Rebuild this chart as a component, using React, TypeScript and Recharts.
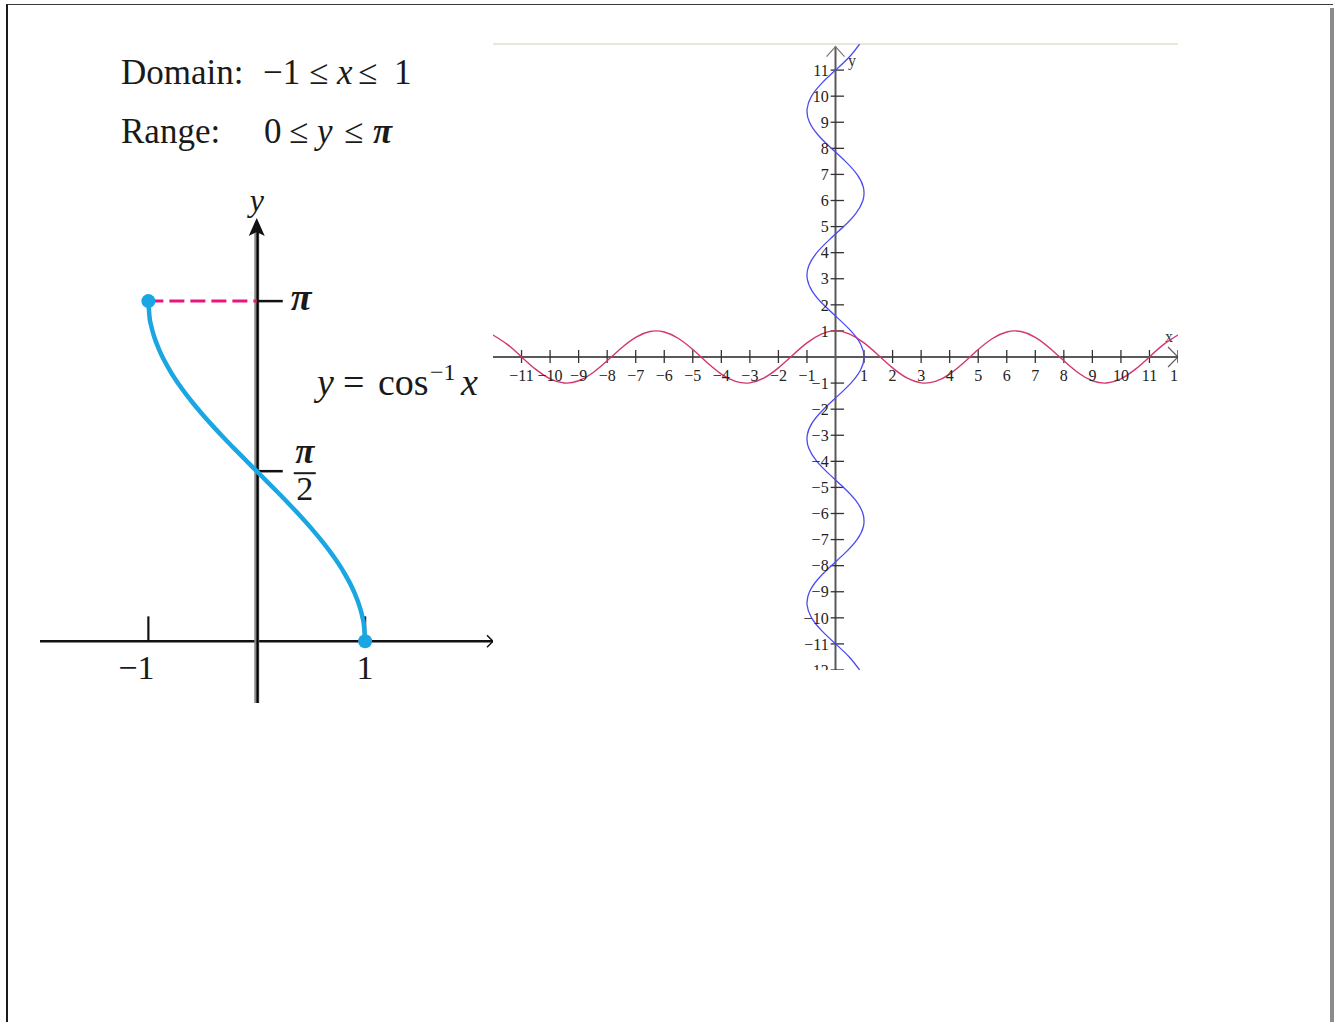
import { LineChart, Line, XAxis, YAxis, ReferenceLine, ReferenceDot } from "recharts";

const SERIF = '"Liberation Serif", "DejaVu Serif", serif';

// principal branch of arccos on [-1, 1]
const acosX = [-1, -0.99, -0.975, -0.95, -0.9, -0.8, -0.7, -0.6, -0.5, -0.4, -0.3, -0.2, -0.1, 0, 0.1, 0.2, 0.3, 0.4, 0.5, 0.6, 0.7, 0.8, 0.9, 0.95, 0.975, 0.99, 1];
const acosY = [3.1416, 3.0001, 2.9175, 2.824, 2.6906, 2.4981, 2.3462, 2.2143, 2.0944, 1.9823, 1.8755, 1.7722, 1.671, 1.5708, 1.4706, 1.3694, 1.2661, 1.1593, 1.0472, 0.9273, 0.7954, 0.6435, 0.451, 0.3176, 0.2241, 0.1415, 0];
const PI = 3.1416;
const HALF_PI = 1.5708;
const leftTicks = [-1, 1];

// cosine samples on [-12, 12]; used as y = cos x and, swapped, as x = cos y
const cosT = [-12, -11.5, -11, -10.5, -10, -9.5, -9, -8.5, -8, -7.5, -7, -6.5, -6, -5.5, -5, -4.5, -4, -3.5, -3, -2.5, -2, -1.5, -1, -0.5, 0, 0.5, 1, 1.5, 2, 2.5, 3, 3.5, 4, 4.5, 5, 5.5, 6, 6.5, 7, 7.5, 8, 8.5, 9, 9.5, 10, 10.5, 11, 11.5, 12];
const cosV = [0.844, 0.483, 0.004, -0.476, -0.839, -0.997, -0.911, -0.602, -0.146, 0.347, 0.754, 0.977, 0.96, 0.709, 0.284, -0.211, -0.654, -0.936, -0.99, -0.801, -0.416, 0.071, 0.54, 0.878, 1, 0.878, 0.54, 0.071, -0.416, -0.801, -0.99, -0.936, -0.654, -0.211, 0.284, 0.709, 0.96, 0.977, 0.754, 0.347, -0.146, -0.602, -0.911, -0.997, -0.839, -0.476, 0.004, 0.483, 0.844];

const xTicks = [-11, -10, -9, -8, -7, -6, -5, -4, -3, -2, -1, 1, 2, 3, 4, 5, 6, 7, 8, 9, 10, 11, 12];
const yTicks = [-12, -11, -10, -9, -8, -7, -6, -5, -4, -3, -2, -1, 1, 2, 3, 4, 5, 6, 7, 8, 9, 10, 11];

const acosData = acosX.map((x, i) => ({ x, y: acosY[i] }));
const cosData = cosT.map((t, i) => ({ x: t, y: cosV[i] }));
const invData = cosT.map((t, i) => ({ x: cosV[i], y: t }));

const fmt = (v: number) => String(v).replace("-", "\u2212");

// x axis with an open arrow head at the right end
const rightArrow = (color: string, width: number, head: number, headWidth: number) => (p: any) => (
  <g>
    <line x1={p.x1} y1={p.y1} x2={p.x2} y2={p.y2} stroke={color} strokeWidth={width} />
    <path
      d={`M${p.x2 - head},${p.y2 - head} L${p.x2},${p.y2} L${p.x2 - head},${p.y2 + head}`}
      fill="none"
      stroke={color}
      strokeWidth={headWidth}
    />
  </g>
);

// thick y axis with a solid arrow head on top
const solidUpArrow = (p: any) => (
  <g>
    <line x1={p.x1} y1={p.y1} x2={p.x2} y2={p.y2 + 10} stroke="#8a8a8a" strokeWidth={5} />
    <line x1={p.x1 + 0.8} y1={p.y1} x2={p.x2 + 0.8} y2={p.y2 + 10} stroke="#000" strokeWidth={2.2} />
    <path d={`M${p.x2},${p.y2} L${p.x2 + 8},${p.y2 + 18} L${p.x2},${p.y2 + 14} L${p.x2 - 8},${p.y2 + 18} Z`} fill="#111" />
  </g>
);

const openUpArrow = (p: any) => (
  <g>
    <line x1={p.x1} y1={p.y1} x2={p.x2} y2={p.y2} stroke="#5a5a5a" strokeWidth={2} />
    <path d={`M${p.x2 - 9},${p.y2 + 10} L${p.x2},${p.y2} L${p.x2 + 9},${p.y2 + 10}`} fill="none" stroke="#777" strokeWidth={1.2} />
  </g>
);

const HalfPiLabel = (props: any) => {
  const vb = props.viewBox;
  const cx = vb.x + vb.width + 22;
  const cy = vb.y + vb.height / 2;
  return (
    <g fontFamily={SERIF} fill="#1a1a1a">
      <text x={cx} y={cy - 8} textAnchor="middle" fontSize={35} fontStyle="italic" fontWeight="bold">π</text>
      <line x1={cx - 11} x2={cx + 11} y1={cy + 2} y2={cy + 2} stroke="#1a1a1a" strokeWidth={2} />
      <text x={cx} y={cy + 29} textAnchor="middle" fontSize={34}>2</text>
    </g>
  );
};

const PiLabel = (props: any) => {
  const vb = props.viewBox;
  return (
    <text x={vb.x + vb.width + 8} y={vb.y + 9} fontFamily={SERIF} fontSize={38} fontStyle="italic" fontWeight="bold" fill="#1a1a1a">π</text>
  );
};

const tickLabel = (text: string, shift: number) => (props: any) => {
  const vb = props.viewBox;
  return (
    <text x={vb.x + shift} y={vb.y + vb.height + 38} textAnchor="middle" fontFamily={SERIF} fontSize={34} fill="#1a1a1a">{text}</text>
  );
};

const YLabel = (props: any) => {
  const vb = props.viewBox;
  return (
    <text x={vb.x} y={vb.y - 7} textAnchor="middle" fontFamily={SERIF} fontSize={32} fontStyle="italic" fill="#1a1a1a">y</text>
  );
};

function ArccosChart() {
  return (
    <LineChart width={453} height={523} margin={{ top: 0, right: 0, bottom: 0, left: 0 }}>
      <XAxis type="number" dataKey="x" domain={[-2, 2.18]} allowDataOverflow hide />
      <YAxis type="number" domain={[-0.57, 4.26]} allowDataOverflow hide />

      <ReferenceLine segment={[{ x: -2, y: 0 }, { x: 2.18, y: 0 }]} shape={rightArrow("#111", 2.5, 6, 1.5)} />
      <ReferenceLine segment={[{ x: 0, y: -0.57 }, { x: 0, y: 3.91 }]} shape={solidUpArrow} label={{ content: YLabel }} />

      {leftTicks.map((t) => (
        <ReferenceLine
          key={t}
          segment={[{ x: t, y: 0 }, { x: t, y: 0.23 }]}
          stroke="#111"
          strokeWidth={2.2}
          label={{ content: tickLabel(fmt(t), t < 0 ? -12 : 0) }}
        />
      ))}
      <ReferenceLine segment={[{ x: 0, y: PI }, { x: 0.24, y: PI }]} stroke="#111" strokeWidth={2.5} label={{ content: PiLabel }} />
      <ReferenceLine segment={[{ x: 0, y: HALF_PI }, { x: 0.24, y: HALF_PI }]} stroke="#111" strokeWidth={2.5} label={{ content: HalfPiLabel }} />

      <ReferenceLine segment={[{ x: -1, y: PI }, { x: 0, y: PI }]} stroke="#E8157F" strokeWidth={3} strokeDasharray="15 6" />

      <Line
        data={acosData}
        dataKey="y"
        type="monotone"
        stroke="#1AA6E2"
        strokeWidth={4.5}
        dot={false}
        activeDot={false}
        isAnimationActive={false}
      />
      <ReferenceDot x={-1} y={PI} r={7} fill="#1AA6E2" stroke="none" />
      <ReferenceDot x={1} y={0} r={7} fill="#1AA6E2" stroke="none" />
    </LineChart>
  );
}

const smallTick = { fontSize: 16, fontFamily: SERIF, fill: "#222" };

function CosineChart() {
  return (
    <LineChart width={685} height={628} margin={{ top: 2, right: 0, bottom: 0, left: 0 }}>
      <XAxis type="number" dataKey="x" domain={[-12, 12]} allowDataOverflow hide />
      <YAxis type="number" domain={[-12, 12]} allowDataOverflow hide />

      <ReferenceLine y={12} stroke="#E9E7DA" strokeWidth={2} />
      <ReferenceLine segment={[{ x: -12, y: 0 }, { x: 12, y: 0 }]} shape={rightArrow("#5a5a5a", 2, 10, 1.2)} />
      <ReferenceLine segment={[{ x: 0, y: -12 }, { x: 0, y: 11.9 }]} shape={openUpArrow} />

      {xTicks.map((t) => (
        <ReferenceLine
          key={`x${t}`}
          segment={[{ x: t, y: -0.23 }, { x: t, y: 0.27 }]}
          stroke="#333"
          strokeWidth={1.3}
          label={{ value: fmt(t), position: "bottom", offset: 7, ...smallTick }}
        />
      ))}
      {yTicks.map((t) => (
        <ReferenceLine
          key={`y${t}`}
          segment={[{ x: -0.17, y: t }, { x: 0.3, y: t }]}
          stroke="#333"
          strokeWidth={1.3}
          label={{ value: fmt(t), position: "left", offset: 2, ...smallTick }}
        />
      ))}

      <Line
        data={cosData}
        dataKey="y"
        type="natural"
        stroke="#D4366E"
        strokeWidth={1.4}
        dot={false}
        activeDot={false}
        isAnimationActive={false}
      />
      <Line
        data={invData}
        dataKey="y"
        type="natural"
        stroke="#4A4AF5"
        strokeWidth={1.3}
        dot={false}
        activeDot={false}
        isAnimationActive={false}
      />
    </LineChart>
  );
}

export default function App() {
  return (
    <div style={{ position: "absolute", left: 0, top: 0, width: 1335, height: 1022, background: "#fff", overflow: "hidden" }}>
      {/* slide frame */}
      <div style={{ position: "absolute", left: 6, top: 4, width: 1325, height: 1040, borderLeft: "2px solid #1a1a1a", borderTop: "1.5px solid #3a3a3a" }} />
      <div style={{ position: "absolute", left: 1330, top: 8, width: 4, height: 1014, background: "#8c8c8c" }} />

      <svg width={1335} height={1022} style={{ position: "absolute", left: 0, top: 0 }} fontFamily={SERIF} fill="#1a1a1a">
        <g fontSize={35}>
          <text x={121} y={84}>Domain:</text>
          <text x={263} y={84}>{"\u22121"}</text>
          <text x={309} y={84}>≤</text>
          <text x={337} y={84} fontStyle="italic">x</text>
          <text x={358} y={84}>≤</text>
          <text x={394} y={84}>1</text>

          <text x={121} y={143}>Range:</text>
          <text x={264} y={143}>0</text>
          <text x={289} y={143}>≤</text>
          <text x={317} y={143} fontStyle="italic">y</text>
          <text x={344} y={143}>≤</text>
          <text x={373} y={143} fontStyle="italic" fontWeight="bold">π</text>
        </g>
        <g fontSize={38}>
          <text x={317} y={395} fontStyle="italic">y</text>
          <text x={343} y={395}>=</text>
          <text x={378} y={395}>cos</text>
          <text x={430} y={380} fontSize={24}>{"\u22121"}</text>
          <text x={461} y={395} fontStyle="italic">x</text>
        </g>
        <g fontSize={16} fill="#333">
          <text x={1165} y={342}>x</text>
          <text x={848} y={66}>y</text>
        </g>
      </svg>

      <div style={{ position: "absolute", left: 40, top: 180 }}>
        <ArccosChart />
      </div>
      <div style={{ position: "absolute", left: 493, top: 42 }}>
        <CosineChart />
      </div>
    </div>
  );
}
